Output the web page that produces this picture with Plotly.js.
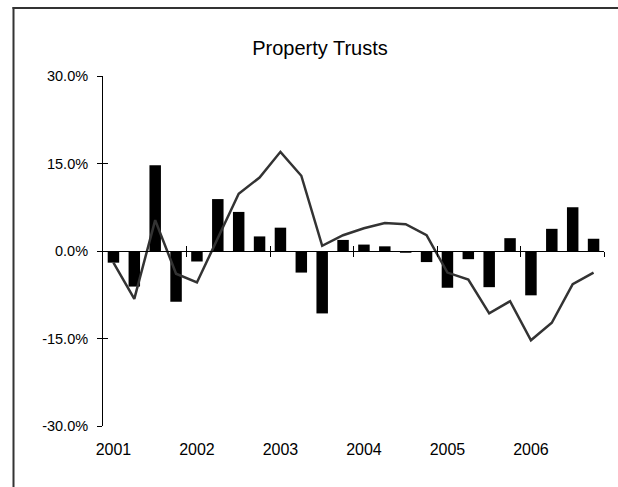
<!DOCTYPE html>
<html>
<head>
<meta charset="utf-8">
<script src="https://cdn.plot.ly/plotly-3.0.1.min.js"></script>
<style>
html,body{margin:0;padding:0;background:#fff;overflow:hidden;}
#chart{width:618px;height:487px;}
</style>
</head>
<body>
<div id="chart"></div>
<script>
// Quarterly periods 2001 Q1 .. 2006 Q4
const quarters = ["2001 Q1","2001 Q2","2001 Q3","2001 Q4","2002 Q1","2002 Q2","2002 Q3","2002 Q4",
  "2003 Q1","2003 Q2","2003 Q3","2003 Q4","2004 Q1","2004 Q2","2004 Q3","2004 Q4",
  "2005 Q1","2005 Q2","2005 Q3","2005 Q4","2006 Q1","2006 Q2","2006 Q3","2006 Q4"];
// Quarterly return (bars), %
const quarterlyReturn = [-2.0,-6.1,14.7,-8.7,-1.8,8.9,6.7,2.5,4.0,-3.7,-10.7,1.9,
  1.1,0.8,-0.3,-1.9,-6.3,-1.4,-6.2,2.2,-7.6,3.8,7.5,2.1];
// Annual (rolling) return (line), %
const annualReturn = [-2.0,-8.2,5.3,-3.9,-5.4,2.3,9.8,12.6,17.0,12.9,0.9,2.7,
  3.9,4.8,4.6,2.7,-3.7,-4.9,-10.7,-8.6,-15.3,-12.3,-5.7,-3.7];
const yearLabels = ["2001","2002","2003","2004","2005","2006"];
const yTickVals = [-30,-15,0,15,30];
const yTickText = ["-30.0%","-15.0%","0.0%","15.0%","30.0%"];

const idx = quarters.map((q,i)=>i);
const labelPos = yearLabels.map((y,i)=>i*4);
const boundaryPos = yearLabels.map((y,i)=>i*4+3.5);

const traces = [
  {type:'bar', x: idx, y: quarterlyReturn, marker:{color:'#000000', line:{width:0}},
   hoverinfo:'skip', showlegend:false},
  {type:'scatter', mode:'lines', x: idx, y: annualReturn, line:{color:'#333333', width:2.5},
   hoverinfo:'skip', showlegend:false},
  {type:'scatter', mode:'lines', x: [], y: [], xaxis:'x2', yaxis:'y', showlegend:false, hoverinfo:'skip'},
  {type:'scatter', mode:'lines', x: [], y: [], xaxis:'x3', yaxis:'y', showlegend:false, hoverinfo:'skip'},
  {type:'scatter', mode:'lines', x: [], y: [], xaxis:'x', yaxis:'y2', showlegend:false, hoverinfo:'skip'}
];

const L = 103, R = 14, T = 76, B = 61;
const pw = 618 - L - R, ph = 487 - T - B;
const px2paperX = p => (p - L) / pw;
const py2paperY = p => (487 - B - p) / ph;

const xr = [-0.5, quarters.length - 0.5];
const frameLine = {color: '#333333', width: 2};
const layout = {
  width: 618, height: 487,
  margin: {l: L, r: R, t: T, b: B, pad: 0},
  paper_bgcolor: '#ffffff', plot_bgcolor: 'rgba(0,0,0,0)',
  bargap: 0.45,
  font: {family: 'Liberation Sans, Arial, sans-serif', color: '#000000'},
  title: {
    text: 'Property Trusts',
    font: {family: 'Liberation Sans, Arial, sans-serif', size: 20, color: '#000000'},
    x: 320/618, xref: 'container', xanchor: 'center',
    y: 1 - 48/487, yref: 'container', yanchor: 'middle'
  },
  xaxis: {
    range: xr, tickmode: 'array', tickvals: labelPos, ticktext: yearLabels,
    ticks: '', showline: false, showgrid: false, zeroline: false,
    tickfont: {size: 16, family: 'Liberation Sans, Arial, sans-serif'},
    ticklabelstandoff: 12, fixedrange: true
  },
  xaxis2: {
    overlaying: 'x', anchor: 'free', position: 0.5, range: xr,
    tickmode: 'array', tickvals: boundaryPos, ticks: 'outside', ticklen: 5, tickwidth: 1, tickcolor: '#000',
    showticklabels: false, showline: true, linecolor: '#000', linewidth: 1,
    showgrid: false, zeroline: false
  },
  xaxis3: {
    overlaying: 'x', anchor: 'free', position: 0.5, range: xr,
    tickmode: 'array', tickvals: boundaryPos, ticks: 'inside', ticklen: 5, tickwidth: 1, tickcolor: '#000',
    showticklabels: false, showline: false, showgrid: false, zeroline: false
  },
  yaxis: {
    range: [-30, 30], tickmode: 'array', tickvals: yTickVals, ticktext: yTickText,
    ticks: 'outside', ticklen: 5, tickwidth: 1, tickcolor: '#000',
    showline: true, linecolor: '#000', linewidth: 1,
    showgrid: false, zeroline: false,
    tickfont: {size: 14.5, family: 'Liberation Sans, Arial, sans-serif'},
    ticklabelstandoff: 6, fixedrange: true
  },
  yaxis2: {
    overlaying: 'y', anchor: 'x', side: 'left', range: [-30, 30],
    tickmode: 'array', tickvals: yTickVals, ticks: 'inside', ticklen: 5, tickwidth: 1, tickcolor: '#000',
    showticklabels: false, showline: false, showgrid: false, zeroline: false
  },
  shapes: [
    {type: 'line', xref: 'paper', yref: 'paper', layer: 'below',
     x0: px2paperX(13.5), x1: px2paperX(13.5), y0: py2paperY(540), y1: py2paperY(7),
     line: frameLine},
    {type: 'line', xref: 'paper', yref: 'paper', layer: 'below',
     x0: px2paperX(12.5), x1: px2paperX(700), y0: py2paperY(8), y1: py2paperY(8),
     line: frameLine}
  ]
};

Plotly.newPlot('chart', traces, layout, {displayModeBar: false, staticPlot: true});
</script>
</body>
</html>
